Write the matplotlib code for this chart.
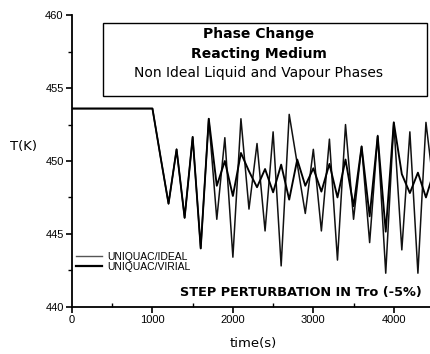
import numpy as np
from matplotlib import pyplot as plt
from matplotlib.patches import Rectangle
from matplotlib.ticker import MultipleLocator

# time (s) and temperature (K)
t_ideal = [0, 1000, 1100, 1200, 1300, 1400, 1500, 1600, 1700, 1800, 1900,
           2000, 2100, 2200, 2300, 2400, 2500, 2600, 2700, 2800, 2900,
           3000, 3100, 3200, 3300, 3400, 3500, 3600, 3700, 3800, 3900,
           4000, 4100, 4200, 4300, 4400, 4500]
T_ideal = [453.6, 453.6, 450.3, 447.07, 450.8, 446.1, 451.65, 444.0, 452.9, 446.0, 451.6,
           443.4, 452.9, 446.7, 451.2, 445.2, 452.0, 442.8, 453.2, 449.8, 446.4,
           450.8, 445.2, 451.5, 443.2, 452.5, 446.0, 451.0, 444.4, 451.75, 442.3,
           452.65, 443.9, 452.0, 442.3, 452.65, 448.0]

t_virial = t_ideal
T_virial = [453.6, 453.6, 450.3, 447.07, 450.8, 446.1, 451.65, 444.0, 452.9, 448.3, 450.0,
            447.6, 450.55, 449.3, 448.2, 449.45, 447.85, 449.75, 447.35, 450.1, 448.3,
            449.5, 447.9, 449.8, 447.5, 450.1, 446.9, 451.0, 446.2, 451.7, 445.15,
            452.65, 449.1, 447.8, 449.2, 447.5, 449.3]

W, H = 430, 354
fig = plt.figure(figsize=(W/100, H/100), dpi=100)
ax = fig.add_axes([72/W, 1-306.7/H, 362/W, (306.7-15.3)/H])

ax.plot(t_ideal, T_ideal, color='#111111', lw=1.1, label='UNIQUAC/IDEAL')
ax.plot(t_virial, T_virial, color='black', lw=1.35, label='UNIQUAC/VIRIAL')

ax.set_xlim(0, 4500)
ax.set_ylim(440, 460)
ax.xaxis.set_major_locator(MultipleLocator(1000))
ax.xaxis.set_minor_locator(MultipleLocator(500))
ax.yaxis.set_major_locator(MultipleLocator(5))
ax.yaxis.set_minor_locator(MultipleLocator(2.5))
for s in ['top', 'right']:
    ax.spines[s].set_visible(False)
for s in ['left', 'bottom']:
    ax.spines[s].set_linewidth(1.3)
ax.tick_params(which='major', direction='out', length=4, width=1.2,
               labelsize=8, pad=2)
ax.tick_params(axis='x', which='minor', direction='in', length=3, width=1.0)
ax.tick_params(axis='y', which='minor', direction='out', length=3, width=1.0)
for lab in ax.get_xticklabels() + ax.get_yticklabels():
    lab.set_family('Liberation Sans')

leg = ax.legend(loc='upper left', bbox_to_anchor=(76/W, 1-252/H),
                bbox_transform=fig.transFigure, frameon=False,
                prop={'family': 'Liberation Sans', 'size': 7.5},
                handlelength=2.5, handletextpad=0.5, labelspacing=0.0,
                borderpad=0, borderaxespad=0)
leg.get_lines()[0].set_color('#555555')
leg.get_lines()[0].set_linewidth(1.0)
leg.get_lines()[1].set_linewidth(1.6)

# title box
fig.patches.append(Rectangle((103/W, 1-96/H), (427-103)/W, (96-22.7)/H,
                             transform=fig.transFigure, fill=False,
                             edgecolor='black', lw=1.0))
fig.text(259/W, 1-34/H, 'Phase Change', ha='center', va='center',
         fontsize=10, fontweight='bold')
fig.text(259/W, 1-54.3/H, 'Reacting Medium', ha='center', va='center',
         fontsize=10, fontweight='bold')
fig.text(259/W, 1-73.3/H, 'Non Ideal Liquid and Vapour Phases',
         ha='center', va='center', fontsize=10)

fig.text(421.7/W, 1-292.7/H, 'STEP PERTURBATION IN Tro (-5%)',
         ha='right', va='center', fontsize=9.3, fontweight='bold')
fig.text(10/W, 1-146.7/H, 'T(K)', ha='left', va='center', fontsize=9.5)
fig.text(253/W, 1-343.3/H, 'time(s)', ha='center', va='center', fontsize=9.5)

plt.savefig('out.png', dpi=100)
